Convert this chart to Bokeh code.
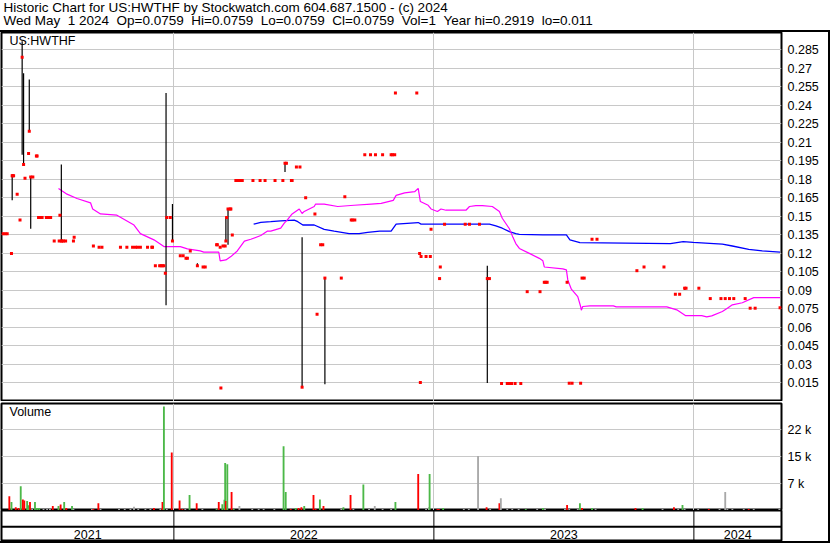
import pandas as pd
from bokeh.plotting import figure
from bokeh.models import Range1d, FixedTicker, Label, Span, ColumnDataSource, Spacer
from bokeh.layouts import column, row
from bokeh.embed import file_html
from bokeh.resources import INLINE
from bokeh.core.properties import value

FONT = "Liberation Sans"
BLACK = "#000000"
GRID = "#c8c8c8"

# ---------------- texts ----------------
header_line1 = "Historic Chart for US:HWTHF by Stockwatch.com 604.687.1500 - (c) 2024"
header_line2 = ("Wed May\u00a0\u00a01 2024\u00a0\u00a0Op=0.0759\u00a0\u00a0Hi=0.0759\u00a0\u00a0Lo=0.0759"
                "\u00a0\u00a0Cl=0.0759\u00a0\u00a0Vol=1\u00a0\u00a0Year hi=0.2919\u00a0\u00a0lo=0.011")
symbol = "US:HWTHF"
volume_title = "Volume"

# ---------------- axes ----------------
range_start = "2021-05-04"
range_end = "2024-05-03"
year_bounds = ["2022-01-01", "2023-01-01", "2024-01-01"]
year_labels = ["2021", "2022", "2023", "2024"]

price_ticks = [0.015, 0.03, 0.045, 0.06, 0.075, 0.09, 0.105, 0.12, 0.135, 0.15,
               0.165, 0.18, 0.195, 0.21, 0.225, 0.24, 0.255, 0.27, 0.285]
price_tick_labels = ["0.015", "0.03", "0.045", "0.06", "0.075", "0.09", "0.105", "0.12", "0.135", "0.15",
                     "0.165", "0.18", "0.195", "0.21", "0.225", "0.24", "0.255", "0.27", "0.285"]
vol_ticks = [7333, 14667, 22000]
vol_tick_labels = ["7 k", "15 k", "22 k"]

# ---------------- closes ----------------
close_dates = [
    "2021-05-06", "2021-05-09", "2021-05-12", "2021-05-18", "2021-05-19", "2021-05-20", "2021-05-21", "2021-05-26", "2021-05-30",
    "2021-06-02", "2021-06-04", "2021-06-06", "2021-06-11", "2021-06-12", "2021-06-14", "2021-06-17", "2021-06-22", "2021-06-23", "2021-06-25", "2021-06-28", "2021-06-30",
    "2021-07-06", "2021-07-08", "2021-07-09", "2021-07-12", "2021-07-17", "2021-07-24", "2021-07-25", "2021-07-27", "2021-07-28", "2021-07-30",
    "2021-08-02", "2021-08-13", "2021-08-14", "2021-09-10", "2021-09-18", "2021-09-22",
    "2021-10-18", "2021-10-27", "2021-11-04", "2021-11-08", "2021-11-11", "2021-11-15", "2021-11-25",
    "2021-12-01", "2021-12-02", "2021-12-06", "2021-12-12", "2021-12-14", "2021-12-16", "2021-12-18", "2021-12-20", "2021-12-22", "2021-12-27", "2021-12-30",
    "2022-01-10", "2022-01-14", "2022-01-18", "2022-01-20", "2022-01-24", "2022-02-03", "2022-02-11", "2022-02-14",
    "2022-03-02", "2022-03-03", "2022-03-07", "2022-03-08", "2022-03-11", "2022-03-14", "2022-03-15", "2022-03-16", "2022-03-18", "2022-03-21", "2022-03-22", "2022-03-24", "2022-03-29", "2022-03-30", "2022-03-31",
    "2022-04-01", "2022-04-04", "2022-04-05", "2022-04-07", "2022-04-22", "2022-05-02", "2022-05-09", "2022-05-23",
    "2022-06-03", "2022-06-06", "2022-06-08", "2022-06-15", "2022-06-16", "2022-06-22", "2022-06-27", "2022-06-30",
    "2022-07-05", "2022-07-18", "2022-07-21", "2022-07-26", "2022-07-29", "2022-08-01", "2022-08-24", "2022-08-29",
    "2022-09-07", "2022-09-09", "2022-09-12", "2022-09-26", "2022-10-04", "2022-10-11", "2022-10-21", "2022-11-02", "2022-11-04", "2022-11-07", "2022-11-08",
    "2022-12-08", "2022-12-12", "2022-12-13", "2022-12-14", "2022-12-21", "2022-12-27", "2022-12-28",
    "2023-01-09", "2023-01-10", "2023-01-16", "2023-02-14", "2023-02-20", "2023-03-06", "2023-03-17", "2023-03-20",
    "2023-04-06", "2023-04-14", "2023-04-17", "2023-04-18", "2023-04-20", "2023-04-25", "2023-05-03", "2023-05-12", "2023-05-30",
    "2023-06-05", "2023-06-07", "2023-06-09", "2023-07-07", "2023-07-10", "2023-07-14", "2023-07-26", "2023-07-28", "2023-07-31",
    "2023-08-11", "2023-08-18", "2023-10-13", "2023-10-23", "2023-11-20", "2023-12-06", "2023-12-12", "2023-12-19", "2023-12-21",
    "2024-01-08", "2024-01-24", "2024-02-08", "2024-02-14", "2024-02-20", "2024-02-26", "2024-03-13", "2024-03-20", "2024-03-27", "2024-05-01",
]
close_values = [
    0.136, 0.136, 0.136, 0.120, 0.183, 0.183, 0.183, 0.168, 0.147,
    0.279, 0.192, 0.181, 0.201, 0.219, 0.182, 0.182, 0.199, 0.199, 0.149, 0.149, 0.149,
    0.149, 0.149, 0.149, 0.149, 0.130, 0.130, 0.151, 0.130, 0.130, 0.130,
    0.130, 0.130, 0.133, 0.126, 0.125, 0.125,
    0.125, 0.125, 0.125, 0.125, 0.125, 0.125, 0.125,
    0.125, 0.125, 0.110, 0.110, 0.110, 0.110, 0.110, 0.104, 0.149, 0.149, 0.130,
    0.118, 0.118, 0.116, 0.116, 0.122, 0.110, 0.109, 0.109,
    0.127, 0.127, 0.125, 0.011, 0.126, 0.126, 0.130, 0.149, 0.156, 0.156, 0.156, 0.135, 0.179, 0.179, 0.179,
    0.179, 0.179, 0.179, 0.179, 0.179, 0.179, 0.179, 0.179,
    0.179, 0.193, 0.193, 0.179, 0.179, 0.190, 0.190, 0.0116,
    0.165, 0.152, 0.0707, 0.127, 0.127, 0.100, 0.100, 0.166,
    0.147, 0.147, 0.147, 0.200, 0.200, 0.200, 0.200, 0.200, 0.200, 0.200, 0.250,
    0.250, 0.120, 0.0154, 0.1175, 0.1175, 0.1175, 0.1395,
    0.0996, 0.109, 0.1437, 0.1437, 0.1437, 0.1437, 0.0996, 0.0996,
    0.0146, 0.0146, 0.0146, 0.0146, 0.0146, 0.0146, 0.0146, 0.089, 0.089,
    0.0966, 0.0966, 0.0966, 0.0966, 0.0148, 0.0148, 0.0148, 0.100, 0.100,
    0.1315, 0.1315, 0.106, 0.109, 0.109, 0.0869, 0.0869, 0.0918, 0.0918,
    0.0918, 0.0834, 0.0834, 0.0834, 0.0834, 0.0834, 0.0834, 0.0756, 0.0756, 0.0759,
]

# ---------------- high / low ranges ----------------
range_dates = ["2021-05-19", "2021-06-02", "2021-06-04", "2021-06-12", "2021-06-14", "2021-07-27",
               "2021-12-21", "2021-12-30", "2022-02-03", "2022-03-15", "2022-03-18", "2022-06-06",
               "2022-06-30", "2022-08-01", "2023-03-17", "2023-12-19"]
range_highs = [0.184, 0.2919, 0.266, 0.261, 0.182, 0.192,
               0.250, 0.160, 0.112, 0.149, 0.156, 0.194,
               0.133, 0.100, 0.110, 0.0925]
range_lows = [0.163, 0.200, 0.192, 0.219, 0.140, 0.130,
              0.078, 0.130, 0.109, 0.130, 0.127, 0.186,
              0.012, 0.014, 0.015, 0.0905]

# ---------------- moving averages ----------------
ma_short_dates = [
    "2021-07-23", "2021-08-04", "2021-08-18", "2021-09-06", "2021-09-09", "2021-09-20", "2021-10-13", "2021-11-06", "2021-11-15", "2021-12-04", "2021-12-18",
    "2022-01-10", "2022-01-20", "2022-02-07", "2022-02-12", "2022-03-05", "2022-03-07", "2022-03-15", "2022-03-22", "2022-03-31", "2022-04-10",
    "2022-04-19", "2022-05-03", "2022-05-12", "2022-05-17", "2022-05-31", "2022-06-05", "2022-06-09", "2022-06-16", "2022-06-26", "2022-06-30",
    "2022-07-03", "2022-07-17", "2022-07-19", "2022-07-31", "2022-08-19", "2022-09-11", "2022-10-05", "2022-10-19", "2022-11-05", "2022-11-09",
    "2022-11-21", "2022-12-05", "2022-12-10", "2022-12-13", "2022-12-24", "2022-12-28",
    "2023-01-06", "2023-01-11", "2023-01-18", "2023-02-15", "2023-02-20", "2023-03-01", "2023-03-10", "2023-03-24", "2023-04-03", "2023-04-07",
    "2023-04-17", "2023-04-22", "2023-04-26", "2023-05-01", "2023-05-15", "2023-05-29", "2023-06-03", "2023-06-05", "2023-07-01", "2023-07-06",
    "2023-07-08", "2023-07-13", "2023-07-22", "2023-07-26", "2023-07-27", "2023-07-29", "2023-08-08", "2023-09-10", "2023-09-14", "2023-11-24",
    "2023-12-08", "2023-12-20",
    "2024-01-12", "2024-01-19", "2024-01-26", "2024-02-10", "2024-02-17", "2024-02-24", "2024-03-09", "2024-03-25", "2024-05-01",
]
ma_short_values = [
    0.1725, 0.168, 0.1645, 0.161, 0.156, 0.152, 0.151, 0.143, 0.136, 0.131, 0.1255,
    0.1255, 0.1237, 0.122, 0.121, 0.121, 0.114, 0.1147, 0.1174, 0.122, 0.130,
    0.1315, 0.1345, 0.138, 0.138, 0.1405, 0.1445, 0.147, 0.152, 0.156, 0.1523,
    0.154, 0.158, 0.160, 0.160, 0.158, 0.159, 0.160, 0.1606, 0.163, 0.167,
    0.169, 0.170, 0.1727, 0.162, 0.159, 0.156,
    0.154, 0.156, 0.155, 0.155, 0.158, 0.1587, 0.1587, 0.158, 0.154, 0.1485,
    0.140, 0.133, 0.128, 0.124, 0.120, 0.116, 0.114, 0.109, 0.1075, 0.1066,
    0.0985, 0.091, 0.085, 0.077, 0.074, 0.077, 0.0775, 0.0775, 0.0767, 0.0767,
    0.0743, 0.0696,
    0.0696, 0.0686, 0.0694, 0.0729, 0.0756, 0.0783, 0.080, 0.0842, 0.0842,
]
ma_long_dates = [
    "2022-04-23", "2022-05-03", "2022-05-17", "2022-05-31", "2022-06-19", "2022-06-24", "2022-07-01", "2022-07-17", "2022-07-31", "2022-08-14",
    "2022-09-04", "2022-09-18", "2022-09-30", "2022-10-17", "2022-11-02", "2022-11-09", "2022-12-10", "2022-12-14",
    "2023-03-20", "2023-03-29", "2023-04-07", "2023-04-17", "2023-04-26", "2023-05-01", "2023-06-03", "2023-07-06", "2023-07-11", "2023-07-25",
    "2023-11-29", "2023-12-17", "2023-12-31",
    "2024-01-29", "2024-02-10", "2024-02-24", "2024-03-18", "2024-04-06", "2024-05-01",
]
ma_long_values = [
    0.1437, 0.1451, 0.1457, 0.1464, 0.147, 0.1457, 0.143, 0.143, 0.1395, 0.138,
    0.136, 0.136, 0.137, 0.138, 0.138, 0.1437, 0.145, 0.1437,
    0.1437, 0.1423, 0.1404, 0.1377, 0.136, 0.1355, 0.135, 0.135, 0.131, 0.1288,
    0.128, 0.1296, 0.129,
    0.128, 0.1275, 0.126, 0.1233, 0.122, 0.121,
]

# ---------------- volume ----------------
vol_dates = [
    "2021-05-15", "2021-05-18", "2021-05-24", "2021-05-28", "2021-05-31", "2021-06-03", "2021-06-05", "2021-06-09", "2021-06-11", "2021-06-13",
    "2021-06-16", "2021-06-20", "2021-06-23", "2021-06-26", "2021-07-02", "2021-07-07", "2021-07-11", "2021-07-15", "2021-07-23", "2021-07-26",
    "2021-07-31", "2021-08-03", "2021-08-11", "2021-08-13", "2021-09-08", "2021-09-10", "2021-09-17", "2021-09-20", "2021-10-16", "2021-10-24",
    "2021-11-01", "2021-11-06", "2021-11-12", "2021-11-22", "2021-11-29", "2021-12-04", "2021-12-13", "2021-12-16", "2021-12-18", "2021-12-22",
    "2021-12-29",
    "2022-01-09", "2022-01-13", "2022-01-17", "2022-01-23", "2022-02-02", "2022-02-10", "2022-03-02", "2022-03-05", "2022-03-10", "2022-03-13",
    "2022-03-14", "2022-03-15", "2022-03-17", "2022-03-23", "2022-03-26", "2022-04-03", "2022-04-21", "2022-04-30", "2022-05-07", "2022-05-22",
    "2022-06-04", "2022-06-07", "2022-06-14", "2022-06-21", "2022-06-25", "2022-06-29", "2022-07-03", "2022-07-16", "2022-07-19", "2022-07-25",
    "2022-07-30", "2022-08-24", "2022-08-27", "2022-09-06", "2022-09-10", "2022-09-24", "2022-10-02", "2022-10-10", "2022-10-21", "2022-11-02",
    "2022-11-08", "2022-12-10", "2022-12-21", "2022-12-25", "2022-12-26",
    "2023-01-06", "2023-01-08", "2023-01-14", "2023-02-12", "2023-02-19", "2023-03-04", "2023-03-16", "2023-03-21", "2023-04-03", "2023-04-05",
    "2023-04-14", "2023-04-21", "2023-04-30", "2023-05-10", "2023-05-26", "2023-06-03", "2023-06-06", "2023-07-04", "2023-07-07", "2023-07-10",
    "2023-07-22", "2023-07-25", "2023-07-28", "2023-08-11", "2023-08-16", "2023-10-11", "2023-10-21", "2023-11-18", "2023-12-04", "2023-12-10",
    "2023-12-16", "2023-12-19",
    "2024-01-07", "2024-01-22", "2024-02-06", "2024-02-14", "2024-02-17", "2024-02-24", "2024-03-11", "2024-03-18", "2024-03-25", "2024-04-30",
]
vol_values = [
    3900, 2300, 900, 700, 6600, 3000, 2700, 2600, 1400, 2300,
    400, 2300, 700, 700, 400, 400, 400, 1200, 1200, 1600,
    2300, 700, 1200, 400, 400, 400, 2000, 400, 400, 400,
    400, 1000, 400, 400, 400, 700, 400, 2300, 28300, 400,
    15800,
    2700, 400, 400, 4200, 2000, 400, 400, 2300, 1700, 2900,
    12900, 2600, 12600, 5000, 400, 1200, 400, 400, 400, 400,
    17500, 5000, 400, 700, 700, 900, 1200, 4200, 400, 3000,
    1200, 400, 900, 4200, 400, 7100, 400, 1200, 400, 400,
    2300, 9900, 400, 900, 9900,
    400, 400, 700, 400, 400, 14800, 900, 400, 2000, 3300,
    400, 400, 400, 400, 400, 700, 400, 400, 1500, 400,
    400, 2000, 700, 700, 400, 700, 700, 400, 900, 400,
    1500, 400,
    400, 400, 400, 5000, 400, 400, 400, 400, 400, 400,
]
vol_kind = [
    "d", "u", "d", "d", "u", "d", "d", "u", "u", "d",
    "f", "u", "u", "u", "f", "f", "f", "d", "u", "d",
    "u", "d", "u", "f", "f", "d", "d", "f", "f", "f",
    "f", "f", "f", "f", "f", "d", "f", "d", "u", "f",
    "d",
    "d", "d", "f", "u", "d", "f", "u", "d", "u", "u",
    "u", "d", "u", "d", "u", "f", "f", "f", "f", "f",
    "u", "u", "d", "u", "d", "d", "u", "d", "d", "u",
    "d", "f", "u", "d", "f", "u", "f", "f", "f", "f",
    "u", "d", "f", "f", "u",
    "d", "d", "u", "f", "f", "f", "d", "f", "d", "f",
    "f", "f", "f", "u", "f", "u", "f", "f", "d", "f",
    "f", "u", "d", "u", "f", "d", "u", "f", "d", "f",
    "u", "f",
    "f", "d", "f", "f", "f", "f", "f", "d", "f", "f",
]
kind_colors = {"u": "#4cb848", "d": "#ff0000", "f": "#a8a8a8"}

# ---------------- layout constants ----------------
W_TOTAL = 830
W_FIG = 828
MB_LEFT = 1
MB_RIGHT = 47
H_HEADER = 30
H_PRICE = 369
H_VOL = 109
H_YEARS = 31
DAY_MS = 86400000.0

x_range = Range1d(start=pd.Timestamp(range_start), end=pd.Timestamp(range_end))
year_ms = [pd.Timestamp(d).value / 1e6 for d in year_bounds]


def panel(height, y_range, mbt=0):
    f = figure(width=W_FIG, height=height, x_range=x_range, y_range=y_range,
               x_axis_type="datetime", y_axis_location="right",
               output_backend="svg", toolbar_location=None,
               min_border_left=MB_LEFT, min_border_right=MB_RIGHT,
               min_border_top=mbt, min_border_bottom=0)
    f.xaxis.visible = False
    f.outline_line_color = BLACK
    f.outline_line_width = 2
    f.background_fill_color = "white"
    f.border_fill_color = "white"
    f.xgrid.ticker = FixedTicker(ticks=year_ms)
    f.grid.grid_line_color = GRID
    f.grid.grid_line_width = 1
    return f


def style_yaxis(f, ticks, labels):
    ax = f.yaxis[0]
    ax.ticker = FixedTicker(ticks=ticks)
    ax.major_label_overrides = dict(zip(ticks, labels))
    ax.axis_line_color = None
    ax.major_tick_line_color = None
    ax.minor_tick_line_color = None
    ax.major_tick_in = 0
    ax.major_tick_out = 0
    ax.minor_tick_in = 0
    ax.minor_tick_out = 0
    ax.major_label_text_font = FONT
    ax.major_label_text_font_size = "12.5px"
    ax.major_label_text_color = BLACK
    ax.major_label_standoff = 6


# ---------------- header ----------------
hdr = figure(width=W_TOTAL, height=H_HEADER, output_backend="svg", toolbar_location=None,
             min_border=0, x_range=(0, 1), y_range=(0, 1))
hdr.axis.visible = False
hdr.grid.visible = False
hdr.outline_line_color = None
hdr.add_layout(Label(x=3, y=16, x_units="screen", y_units="screen", text=header_line1,
                     text_font=FONT, text_font_size="13.5px", text_color=BLACK))
hdr.add_layout(Label(x=3, y=3, x_units="screen", y_units="screen", text=header_line2,
                     text_font=FONT, text_font_size="13.5px", text_color=BLACK))

# ---------------- price panel ----------------
p = panel(H_PRICE, Range1d(0, 0.299))
style_yaxis(p, price_ticks, price_tick_labels)
p.line(x=pd.to_datetime(ma_long_dates), y=ma_long_values, line_color="#0000ff", line_width=1.3)
p.line(x=pd.to_datetime(ma_short_dates), y=ma_short_values, line_color="#ff00ff", line_width=1.2)
rd = pd.to_datetime(range_dates)
p.segment(x0=rd, y0=range_lows, x1=rd, y1=range_highs, line_color=BLACK, line_width=1.2)
p.scatter(x=pd.to_datetime(close_dates), y=close_values, marker="square", size=3,
          fill_color="#ff0000", line_color=None)
p.add_layout(Label(x=8, y=H_PRICE - 15, x_units="screen", y_units="screen", text=symbol,
                   text_font=FONT, text_font_size="12.5px", text_color=BLACK))

# ---------------- volume panel ----------------
v = panel(H_VOL, Range1d(0, 29100), mbt=2)
style_yaxis(v, vol_ticks, vol_tick_labels)
vsrc = ColumnDataSource(dict(x=pd.to_datetime(vol_dates), top=vol_values,
                             color=[kind_colors[k] for k in vol_kind]))
v.vbar(x="x", top="top", bottom=0, width=2.6 * DAY_MS, fill_color="color", line_color=None, source=vsrc)
v.add_layout(Label(x=8, y=(H_VOL - 2) - 15, x_units="screen", y_units="screen", text=volume_title,
                   text_font=FONT, text_font_size="12.5px", text_color=BLACK))

# ---------------- year strip ----------------
yr = figure(width=W_FIG, height=H_YEARS, x_range=x_range, y_range=Range1d(0, 2.1),
            x_axis_type="datetime", output_backend="svg", toolbar_location=None,
            min_border_left=MB_LEFT, min_border_right=MB_RIGHT, min_border_top=0, min_border_bottom=0)
yr.axis.visible = False
yr.grid.visible = False
yr.outline_line_color = BLACK
yr.outline_line_width = 2
yb = pd.to_datetime(year_bounds)
yr.segment(x0=yb, y0=0, x1=yb, y1=2.1, line_color=BLACK, line_width=1)
yr.add_layout(Span(location=1, dimension="width", line_color=BLACK, line_width=2))
edges = [pd.Timestamp(range_start)] + list(yb) + [pd.Timestamp(range_end)]
mids = [edges[i] + (edges[i + 1] - edges[i]) / 2 for i in range(len(year_labels))]
yr.text(x=mids, y=[0.5] * len(year_labels), text=year_labels, text_align="center",
        text_baseline="middle", text_font=value(FONT), text_font_size="12.5px", text_color=BLACK)

# ---------------- borders & layout ----------------
top_line = Spacer(width=W_TOTAL, height=2, styles={"background-color": "black"})
bottom_line = Spacer(width=W_TOTAL, height=2, styles={"background-color": "black"})
right_line = Spacer(width=W_TOTAL - W_FIG, height=H_PRICE + H_VOL + H_YEARS,
                    styles={"background-color": "black"})

layout = column(hdr, top_line, row(column(p, v, yr), right_line), bottom_line)

open("out.html", "w").write(file_html(layout, INLINE))
